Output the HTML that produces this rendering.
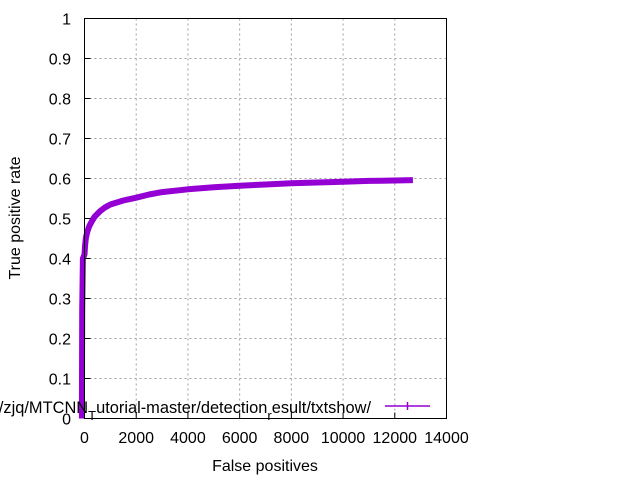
<!DOCTYPE html>
<html><head><meta charset="utf-8"><style>
body{margin:0;background:#fff}
svg{display:block;font-family:"Liberation Sans",Arial,sans-serif;font-size:16px}
</style></head><body>
<svg id="chart" width="640" height="480" viewBox="0 0 640 480">
<g id="grid"></g>
<g id="series"></g>
<rect x="84.5" y="18.5" width="362" height="400" fill="none" stroke="#000" stroke-width="1"/>
<g id="ticks"></g>
<text x="265" y="471" text-anchor="middle">False positives</text>
<text transform="translate(20,218) rotate(-90)" text-anchor="middle">True positive rate</text>
<g>
<text x="371" y="413" text-anchor="end" font-size="16.4">/zjq/MTCNN<tspan font-size="13" dy="7">T</tspan><tspan dy="-7">utorial-master/detection</tspan><tspan font-size="13" dy="7">r</tspan><tspan dy="-7">esult/txtshow/</tspan></text>
<line x1="385" y1="406" x2="430" y2="406" stroke="#9400d3" stroke-width="1.5"/>
<line x1="407.5" y1="402" x2="407.5" y2="410" stroke="#9400d3" stroke-width="1.5"/>
</g>
</svg>
<script>
const xTicks=[0,2000,4000,6000,8000,10000,12000,14000];
const yTicks=[0,0.1,0.2,0.3,0.4,0.5,0.6,0.7,0.8,0.9,1];
const yTickLabels=["0","0.1","0.2","0.3","0.4","0.5","0.6","0.7","0.8","0.9","1"];
const fpValues=[-100,-90,-60,-30,0,20,50,100,150,200,300,400,600,800,1000,1500,2000,2500,3000,4000,5000,6000,7000,8000,9000,10000,11000,12000,12700];
const tprValues=[0,0.27,0.4,0.405,0.41,0.43,0.45,0.465,0.475,0.483,0.495,0.505,0.518,0.528,0.535,0.545,0.552,0.56,0.566,0.573,0.578,0.582,0.585,0.588,0.59,0.592,0.594,0.595,0.596];
const NS="http://www.w3.org/2000/svg";
const X=v=>84.5+v/14000*362, Y=v=>418.5-v*400;
const grid=document.getElementById('grid'),ticks=document.getElementById('ticks'),ser=document.getElementById('series');
function mk(tag,at,p){const e=document.createElementNS(NS,tag);for(const k in at)e.setAttribute(k,at[k]);p.appendChild(e);return e;}
xTicks.forEach((t,i)=>{
 if(i>0&&i<xTicks.length-1){const g=mk('line',{x1:X(t),y1:18.5,x2:X(t),y2:418.5,stroke:'#a0a0a0','stroke-dasharray':'2,3'},grid);
 
 }
 const tk=mk('line',{x1:X(t),y1:418.5,x2:X(t),y2:412.5,stroke:'#000'},ticks);
 
 
 const l=mk('text',{x:X(t),y:443,'text-anchor':'middle'},ticks);l.textContent=t;
 
 
});
yTicks.forEach((t,i)=>{
 if(i>0&&i<yTicks.length-1){const g=mk('line',{x1:84.5,y1:Y(t),x2:446.5,y2:Y(t),stroke:'#a0a0a0','stroke-dasharray':'2,3'},grid);
 
 }
 const tk=mk('line',{x1:84.5,y1:Y(t),x2:90.5,y2:Y(t),stroke:'#000'},ticks);
 
 
 const l=mk('text',{x:71,y:Y(t)+6,'text-anchor':'end'},ticks);l.textContent=yTickLabels[i];
 
 
});
const pts=fpValues.map((v,i)=>X(v).toFixed(1)+','+Y(tprValues[i]).toFixed(1)).join(' ');
const pl=mk('polyline',{points:pts,fill:'none',stroke:'#9400d3','stroke-width':6,'stroke-linejoin':'round'},ser);


</script>
</body></html>
